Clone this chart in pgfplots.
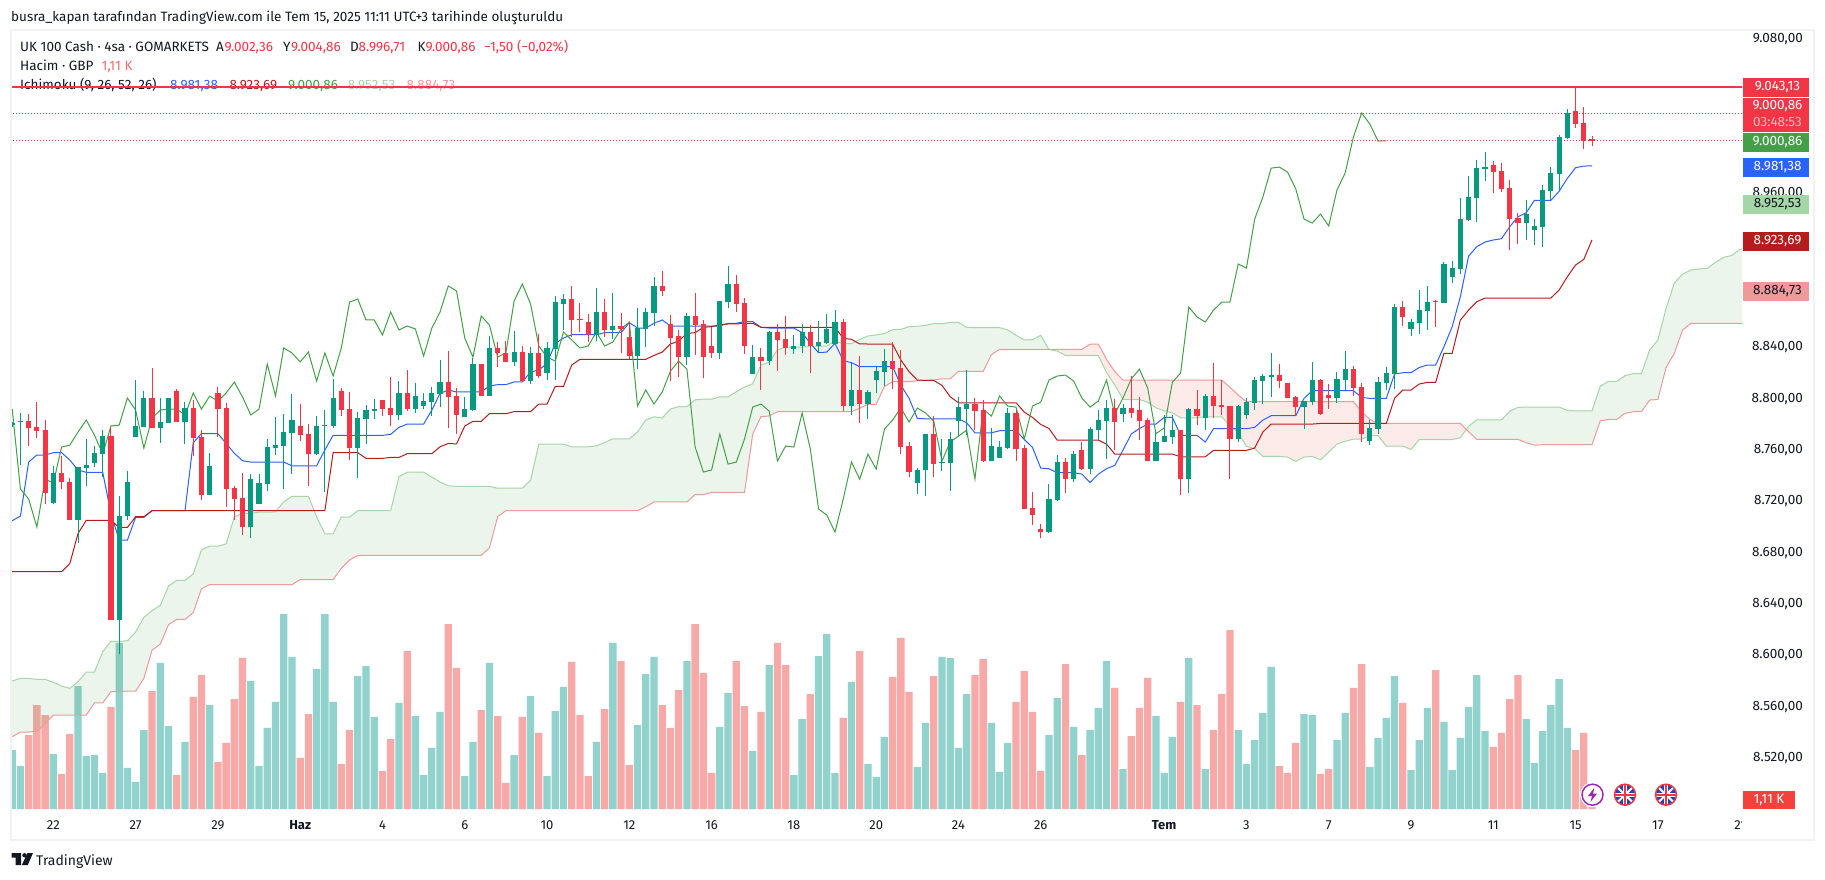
\documentclass[border=0pt]{standalone}
\usepackage{fontspec}
\setmainfont{Fira Sans}
\usepackage{pgfplots}
\usepackage{pgfplotstable}
\pgfplotsset{compat=1.18}
\definecolor{cUp}{HTML}{089981}
\definecolor{cDn}{HTML}{F23645}
\definecolor{vUp}{HTML}{92D2CC}
\definecolor{vDn}{HTML}{F7A9A7}
\definecolor{cT}{HTML}{2962FF}
\definecolor{cK}{HTML}{B71C1C}
\definecolor{cL}{HTML}{43A047}
\definecolor{cA}{HTML}{A5D6A7}
\definecolor{cB}{HTML}{EF9A9A}
\definecolor{cR}{HTML}{F44336}
\definecolor{txt}{HTML}{131722}
\definecolor{frameC}{HTML}{F1F2F4}
\definecolor{purp}{HTML}{9C27B0}
\definecolor{flagb}{HTML}{1A47B8}
\pgfplotstableread{
i o h l c v
0 8779.2 8782.0 8778.1 8781.0 28.3
1 8781.8 8788.5 8748.3 8782.5 20.6
2 8782.5 8787.7 8763.3 8777.1 35.5
3 8777.9 8797.4 8769.6 8774.8 49.9
4 8775.5 8783.3 8717.9 8726.7 45.1
5 8718.7 8747.5 8717.9 8742.0 26.4
6 8742.0 8755.3 8729.6 8735.0 16.8
7 8735.0 8738.1 8705.4 8705.4 36.0
8 8705.4 8746.7 8687.2 8746.7 59.0
9 8745.9 8768.5 8731.9 8748.3 25.4
10 8749.8 8763.1 8746.7 8757.6 25.9
11 8756.8 8775.5 8739.2 8770.9 17.3
12 8770.9 8777.9 8627.5 8627.5 49.0
13 8627.5 8724.1 8601.0 8708.5 79.7
14 8708.5 8743.6 8705.4 8735.0 19.7
15 8770.1 8814.5 8770.1 8778.7 13.0
16 8777.9 8805.9 8777.9 8800.5 37.9
17 8800.5 8823.8 8777.1 8777.1 56.6
18 8777.1 8800.5 8765.4 8781.8 70.1
19 8781.0 8800.5 8781.0 8800.5 39.8
20 8805.9 8807.5 8781.8 8781.8 16.3
21 8781.8 8797.4 8764.6 8792.7 32.2
22 8792.7 8798.9 8755.3 8769.3 53.8
23 8770.1 8775.5 8721.0 8724.9 64.3
24 8724.9 8757.6 8724.9 8747.5 49.9
25 8804.4 8809.0 8770.1 8791.9 22.6
26 8792.7 8796.6 8715.5 8729.6 31.7
27 8730.3 8731.9 8705.4 8721.8 52.8
28 8722.6 8742.0 8693.7 8700.0 72.5
29 8700.0 8741.3 8691.4 8737.4 61.4
30 8717.9 8741.3 8717.9 8734.2 20.6
31 8733.5 8768.5 8728.0 8762.3 38.9
32 8761.5 8785.7 8756.1 8763.8 51.4
33 8763.1 8788.0 8729.6 8774.0 93.6
34 8773.2 8803.6 8741.3 8783.3 73.0
35 8778.7 8795.8 8767.0 8771.6 24.5
36 8772.4 8780.2 8731.9 8756.8 45.6
37 8756.8 8786.4 8756.1 8778.7 67.2
38 8778.7 8791.1 8727.2 8779.4 93.6
39 8778.7 8815.3 8777.1 8800.5 51.4
40 8805.9 8808.3 8786.4 8791.1 21.6
41 8791.9 8805.1 8752.2 8761.5 37.9
42 8761.5 8789.6 8738.1 8784.9 63.8
43 8784.1 8795.0 8764.6 8791.1 68.6
44 8790.3 8799.7 8784.1 8791.9 44.2
45 8798.9 8798.9 8786.4 8791.9 18.2
46 8792.7 8816.8 8778.7 8787.2 33.6
47 8787.2 8813.7 8783.3 8804.4 50.9
48 8804.4 8822.3 8790.3 8791.9 75.8
49 8791.9 8812.2 8788.8 8802.0 44.6
50 8794.2 8804.4 8791.9 8798.1 16.3
51 8797.4 8809.0 8786.4 8804.4 29.3
52 8803.6 8830.1 8793.5 8812.9 46.6
53 8812.9 8837.1 8777.1 8801.2 88.8
54 8802.1 8808.3 8772.5 8787.3 67.7
55 8785.7 8801.3 8785.7 8791.9 15.8
56 8791.2 8831.7 8790.4 8827.0 32.2
57 8827.0 8827.0 8802.1 8802.1 47.5
58 8802.1 8848.8 8802.1 8839.5 70.1
59 8839.5 8844.1 8824.7 8835.6 44.6
60 8835.6 8844.9 8828.6 8828.6 12.5
61 8828.6 8852.7 8825.4 8836.3 25.9
62 8836.3 8841.0 8813.0 8813.7 44.2
63 8813.7 8840.2 8811.4 8835.6 54.2
64 8835.6 8850.4 8816.1 8817.6 36.5
65 8820.0 8844.1 8814.5 8839.5 15.8
66 8838.7 8880.0 8814.5 8875.3 47.0
67 8873.7 8881.5 8853.5 8877.6 58.6
68 8877.6 8887.8 8848.0 8861.3 70.6
69 8862.1 8874.5 8851.9 8861.3 45.1
70 8859.7 8865.9 8844.1 8849.6 15.8
71 8849.6 8886.2 8844.9 8867.5 32.2
72 8867.5 8877.6 8848.0 8853.5 48.0
73 8853.5 8882.3 8846.5 8856.6 79.7
74 8856.6 8866.7 8835.6 8854.3 71.0
75 8848.0 8859.7 8830.9 8833.2 21.1
76 8833.2 8870.6 8823.1 8855.0 40.3
77 8854.3 8870.6 8840.2 8867.5 64.8
78 8866.7 8894.8 8856.6 8887.8 73.0
79 8887.8 8899.4 8880.0 8883.9 49.9
80 8858.2 8865.2 8813.7 8847.2 38.9
81 8848.8 8853.5 8816.9 8832.4 57.1
82 8832.4 8866.7 8826.2 8864.4 71.0
83 8864.4 8882.3 8834.0 8857.4 88.8
84 8858.2 8861.3 8816.1 8832.4 65.3
85 8841.0 8855.8 8831.7 8835.6 17.3
86 8835.6 8876.1 8830.9 8876.1 39.4
87 8875.3 8903.3 8870.6 8889.3 55.7
88 8889.3 8896.3 8867.5 8873.7 71.0
89 8874.5 8878.4 8834.8 8841.0 49.4
90 8819.2 8841.8 8819.2 8832.4 27.8
91 8832.4 8839.5 8806.7 8829.3 46.6
92 8829.3 8852.7 8826.2 8851.9 69.1
93 8851.9 8858.2 8821.5 8845.7 79.7
94 8846.5 8864.4 8834.0 8839.5 69.1
95 8838.7 8849.6 8834.8 8841.0 16.3
96 8841.0 8858.2 8835.6 8851.9 43.2
97 8851.9 8857.4 8820.0 8841.0 55.2
98 8841.0 8860.5 8835.6 8844.1 73.4
99 8843.4 8865.9 8842.6 8854.3 84.0
100 8842.6 8869.1 8841.8 8859.7 17.3
101 8859.7 8862.1 8790.4 8794.3 43.7
102 8794.3 8827.8 8787.3 8806.7 61.0
103 8806.7 8833.2 8781.0 8795.8 75.8
104 8795.8 8806.7 8784.1 8805.2 21.6
105 8814.5 8824.7 8804.4 8821.5 15.4
106 8820.8 8838.7 8809.9 8829.3 34.6
107 8829.3 8844.1 8807.5 8823.0 63.4
108 8823.8 8837.8 8756.8 8762.3 82.1
109 8763.1 8766.2 8738.9 8742.8 56.2
110 8734.2 8745.9 8725.7 8744.4 20.2
111 8744.4 8772.4 8724.1 8772.4 41.3
112 8772.4 8786.4 8738.9 8749.0 63.8
113 8749.8 8768.5 8743.6 8750.6 73.0
114 8749.8 8774.0 8728.0 8768.5 72.5
115 8782.5 8801.2 8770.8 8793.4 29.3
116 8791.9 8822.3 8771.6 8795.8 55.2
117 8795.8 8800.4 8775.5 8790.3 64.3
118 8791.1 8798.9 8750.6 8751.4 72.0
119 8751.4 8777.1 8751.4 8763.1 41.3
120 8753.7 8766.9 8753.7 8762.3 17.8
121 8761.5 8792.7 8760.7 8788.8 31.7
122 8788.8 8791.1 8751.4 8760.7 51.4
123 8761.5 8763.8 8714.0 8714.0 66.2
124 8714.7 8727.2 8701.5 8709.3 46.6
125 8698.4 8702.3 8691.4 8696.0 18.2
126 8696.0 8733.4 8695.3 8721.8 35.5
127 8721.0 8756.0 8720.2 8750.6 53.3
128 8750.6 8753.7 8726.4 8737.3 69.6
129 8737.3 8759.2 8735.0 8756.8 39.4
130 8759.9 8766.2 8744.4 8745.1 25.9
131 8745.1 8777.9 8741.2 8776.3 37.9
132 8775.5 8791.1 8767.7 8783.3 48.5
133 8782.5 8798.9 8752.9 8792.7 71.0
134 8792.7 8799.7 8759.9 8781.8 58.1
135 8788.0 8795.8 8781.8 8792.7 19.2
136 8792.7 8817.6 8784.9 8788.8 35.0
137 8791.1 8801.2 8767.7 8782.5 48.5
138 8783.3 8784.9 8751.4 8751.4 62.9
139 8751.4 8775.5 8751.4 8766.2 44.6
140 8766.2 8787.2 8766.2 8770.8 17.3
141 8770.1 8787.2 8764.6 8775.5 34.6
142 8775.5 8775.5 8724.9 8737.3 51.4
143 8737.3 8792.7 8726.4 8791.9 72.5
144 8791.9 8806.7 8779.4 8786.4 49.9
145 8784.9 8803.6 8775.5 8802.0 19.2
146 8802.0 8827.7 8784.9 8794.2 37.9
147 8795.0 8814.5 8787.2 8793.4 55.2
148 8794.2 8794.2 8737.3 8768.5 85.9
149 8768.5 8795.0 8766.2 8794.2 37.9
150 8787.2 8800.4 8784.1 8797.3 21.6
151 8796.6 8816.8 8791.1 8814.5 33.1
152 8813.7 8819.1 8795.8 8817.6 46.1
153 8816.8 8835.5 8801.2 8818.4 68.2
154 8818.4 8826.9 8808.2 8813.7 20.6
155 8812.1 8812.1 8800.4 8800.4 17.3
156 8801.2 8802.0 8787.2 8793.4 31.7
157 8793.4 8798.1 8776.3 8798.1 45.6
158 8797.3 8828.5 8795.0 8814.5 45.1
159 8814.5 8815.3 8787.2 8788.0 16.8
160 8802.8 8811.4 8791.9 8800.5 19.2
161 8800.5 8820.7 8796.6 8815.3 33.1
162 8814.5 8837.1 8806.7 8823.0 46.1
163 8823.0 8825.4 8802.0 8808.2 58.1
164 8809.0 8812.1 8766.4 8772.7 69.6
165 8767.2 8783.3 8764.1 8777.1 20.2
166 8776.6 8816.8 8772.4 8812.9 34.1
167 8812.1 8824.6 8806.7 8819.9 43.7
168 8819.2 8873.7 8807.5 8871.4 63.8
169 8871.4 8876.0 8856.6 8863.6 50.9
170 8854.2 8862.0 8848.8 8859.7 18.7
171 8858.9 8884.6 8850.3 8869.0 33.1
172 8868.2 8887.7 8853.4 8875.2 48.5
173 8876.0 8876.8 8855.8 8875.2 66.7
174 8874.5 8906.4 8874.5 8904.9 41.8
175 8894.7 8907.2 8890.0 8901.7 18.7
176 8901.0 8956.3 8897.1 8939.9 34.1
177 8939.1 8973.4 8938.4 8957.1 49.0
178 8956.3 8985.9 8937.6 8979.6 64.3
179 8978.9 8992.1 8969.5 8980.4 37.4
180 8982.0 8985.1 8960.2 8976.5 29.8
181 8977.3 8983.5 8961.0 8963.3 36.5
182 8964.1 8970.3 8915.8 8939.9 52.8
183 8940.7 8944.6 8920.4 8936.8 64.3
184 8936.8 8954.7 8923.6 8943.8 43.2
185 8931.3 8939.9 8919.7 8934.5 22.1
186 8933.7 8966.4 8918.1 8962.5 37.4
187 8961.7 8980.4 8954.7 8975.8 49.9
188 8975.0 9005.4 8962.5 9003.8 62.4
189 9003.0 9025.6 9002.2 9022.5 38.9
190 9024.1 9043.13 9010.8 9013.9 28.3
191 9014.7 9027.2 8994.5 9000.7 36.5
192 9002.36 9004.86 8996.71 9000.86 1.11
}\candles
\begin{document}
\begin{tikzpicture}
\fill[white] (0,0) rectangle (1825pt,-879pt);
\path[use as bounding box] (0,0) rectangle (1825pt,-879pt);
\begin{scope}[x=1pt,y=-1pt,every node/.style={inner sep=0pt,text=txt,anchor=base west}]
\def\fs{\fontsize{13.5}{15}\selectfont}
\node[font=\fs] at (11,21) {busra\_kapan tarafından TradingView.com ile Tem 15, 2025 11:11 UTC+3 tarihinde oluşturuldu};
\node[font=\fs] at (20,51.5) {UK 100 Cash · 4sa · GOMARKETS};
\node[font=\fs] at (216,51.5) {A};\node[font=\fs,text=cDn] at (224.5,51.5) {9.002,36};
\node[font=\fs] at (283,51.5) {Y};\node[font=\fs,text=cDn] at (291,51.5) {9.004,86};
\node[font=\fs] at (350,51.5) {D};\node[font=\fs,text=cDn] at (358.5,51.5) {8.996,71};
\node[font=\fs] at (417.5,51.5) {K};\node[font=\fs,text=cDn] at (425.5,51.5) {9.000,86};
\node[font=\fs,text=cDn] at (484,51.5) {−1,50 (−0,02\%)};
\node[font=\fs] at (20,70.5) {Hacim · GBP};
\node[font=\fs,text=cB!70!red] at (101.5,70.5) {1,11 K};
\node[font=\fs] at (20,89.3) {Ichimoku (9, 26, 52, 26)};
\node[font=\fs,text=cT] at (170,89.3) {8.981,38};
\node[font=\fs,text=cK] at (229.3,89.3) {8.923,69};
\node[font=\fs,text=cL] at (288,89.3) {9.000,86};
\node[font=\fs,text=cA] at (347.6,89.3) {8.952,53};
\node[font=\fs,text=cB] at (406.5,89.3) {8.884,73};
\end{scope}

% volume pane
\begin{axis}[at={(11pt,-809pt)},anchor=south west,scale only axis,width=1731pt,height=779pt,
  xmin=-0.146,xmax=210.23,ymin=0,ymax=373.9,hide axis]
\addplot[ybar,bar width=7.3pt,bar shift=0pt,fill=vUp,draw=none]
  table[x expr={\thisrow{c}>=\thisrow{o}?\thisrow{i}:nan},y=v]{\candles};
\addplot[ybar,bar width=7.3pt,bar shift=0pt,fill=vDn,draw=none]
  table[x expr={\thisrow{c}<\thisrow{o}?\thisrow{i}:nan},y=v]{\candles};
\end{axis}

% price pane
\begin{axis}[at={(11pt,-809pt)},anchor=south west,scale only axis,width=1731pt,height=779pt,
  xmin=-0.146,xmax=210.23,ymin=8480.3,ymax=9087.2,
  axis line style={draw=none},major tick length=0pt,tick style={draw=none},
  xtick={5,15,25,35,45,55,65,75,85,95,105,115,125,140,150,160,170,180,190,200,210},
  xticklabels={22,27,29,\textbf{Haz},4,6,10,12,16,18,20,24,26,\textbf{Tem},3,7,9,11,15,17,21},
  xticklabel style={font=\fontsize{13}{15}\selectfont,text=txt,anchor=base,inner sep=0pt,yshift=-20pt},
  yticklabel pos=right,
  ytick={8520,8560,8600,8640,8680,8720,8760,8800,8840,8960,9080},
  yticklabels={{8.520,00},{8.560,00},{8.600,00},{8.640,00},{8.680,00},{8.720,00},{8.760,00},{8.800,00},{8.840,00},{8.960,00},{9.080,00}},
  yticklabel style={font=\fontsize{13.5}{15}\selectfont,text=txt,anchor=east,inner sep=0pt,xshift=61pt}]

% cloud: green part up to the first crossing (span A forward, span B back)
\addplot[fill=cL,fill opacity=0.1,draw=none,forget plot] coordinates {
(0,8580)(1,8582.1)(2,8582.1)(3,8581.3)(4,8581.3)(5,8579)(6,8576.1)(7,8574.3)(8,8579.5)(9,8587)(10,8587)(11,8602.8)(12,8610.9)(13,8610.9)(14,8611.4)(15,8618.2)(16,8629.6)(17,8634.8)(18,8639)(19,8654)(20,8658.4)(21,8658.4)(22,8663.4)(23,8682.1)(24,8685.2)
(25,8685.05)(26,8686.85)(27,8707.9)(28,8710.65)(29,8710.65)(30,8711.55)(31,8711.55)(32,8711.8)(33,8719.7)(34,8723.9)(36,8723.9)(37,8707.9)(38,8694.75)(39,8694.75)(40,8707.75)(41,8707.75)(42,8712.7)(46,8712.7)(47,8739.2)(48,8742.7)(50,8742.7)(51,8738.9)(52,8735.05)(53,8732.15)(54,8731.65)(58,8731.65)(59,8730.2)(62,8730.2)(63,8736.35)(64,8764.65)(67,8764.65)(68,8762.45)(70,8762.45)(71,8763.2)(72,8765.9)(73,8768.65)(75,8768.65)(76,8774.1)(77,8783.3)(78,8785.9)(79,8784.95)(80,8791.95)(81,8793.75)(82,8793.75)(83,8799.1)(84,8799.6)(85,8799.6)(86,8801.45)(87,8801.45)(88,8805.35)(89,8809.05)(90,8811.65)(91,8826.35)(92,8828.4)(93,8838)(94,8840.2)(96,8840.2)(97,8841)(99,8841)(100,8844.9)(101,8842.8)(102,8842.8)(103,8846.2)(104,8848.8)(105,8849.6)(106,8850.75)(107,8853.75)(108,8854)(109,8856.1)(110,8856.35)(111,8857.1)(112,8858.45)(113,8858.45)(114,8859.35)(115,8859.35)(116,8855.6)(117,8855.3)(120,8855.3)(121,8853.5)(122,8849.35)(123,8845.7)(124,8845.95)(125,8849.35)(126,8838.35)
(120,8838.4)(119,8834.2)(118,8821.2)(115,8821.2)(114,8815.5)(113,8815.5)(112,8814.5)(111,8814.2)(110,8814)(109,8813.2)(107,8813.2)(106,8809.5)(105,8795.6)(104,8795.6)(103,8792.5)(102,8789.9)(93,8789.9)(92,8786.5)(91,8786)(90,8772.5)(89,8727)(85,8727)(84,8725.2)(83,8725.2)(82,8719.5)(78,8719.5)(77,8715.8)(76,8712.7)(60,8712.7)(59,8708)(58,8683.9)(57,8677.9)(42,8677.9)(41,8674.3)(40,8667.8)(39,8659)(35,8659)(34,8655.1)(24,8655.1)(23,8651.9)(22,8633.3)(21,8628)(20,8628)(19,8624)(18,8608.8)(17,8604.1)(16,8582.1)(15,8572.2)(14,8572.2)(13,8571.7)(12,8571.7)(11,8562.9)(10,8562.9)(9,8553.5)(5,8553.5)(4,8547)(3,8540.8)(2,8540.3)(1,8540.3)(0,8536.6)};
% cloud: red part between the crossings (span B forward, span A back)
\addplot[fill=cR,fill opacity=0.1,draw=none,forget plot] coordinates {
(126,8838.35)(130,8838.4)(131,8842.5)(132,8842.5)(133,8830.6)(134,8821)(135,8814.5)(147,8814.5)(148,8808.8)(149,8802.8)(150,8797.6)(163,8797.6)(164,8789.8)(165,8783.8)(166,8780.7)(176,8780.7)(176.7,8776.1)
(176,8769.55)(175,8768.15)(171,8768.15)(170,8760.45)(169,8763.05)(167,8763.05)(166,8771.1)(165,8771.1)(164,8768.5)(163,8768.5)(162,8766.8)(161,8764.6)(160,8758.35)(159,8752.4)(158,8755)(157,8754.45)(156,8751.2)(155,8754.45)(154,8755)(152,8755)(151,8761.1)(150,8762.9)(149,8773.7)(148,8778.85)(147,8785.9)(145,8785.9)(144,8785.1)(142,8785.1)(141,8789)(140,8790.55)(139,8792.9)(138,8797.3)(137,8799.25)(136,8799.25)(135,8799.55)(134,8810.6)(133,8820.35)(132,8833.7)(131,8833.7)(130,8833.75)(128,8833.75)(127,8837.1)};
% cloud: green part after the second crossing (span A forward, span B back)
\addplot[fill=cL,fill opacity=0.1,draw=none,forget plot] coordinates {
(176.7,8776.1)(177,8778.65)(178,8783.45)(181,8783.45)(182,8790.2)(183,8793.2)(184,8793.45)(188,8793.45)(189,8790.85)(190,8790.45)(192,8790.45)(193,8809.7)(194,8813.45)(195,8813.45)(196,8817.85)(197,8819.45)(198,8819.45)(199,8837.85)(200,8845.65)(201,8870.3)(202,8890.05)(203,8896.95)(204,8900.2)(205,8901)(206,8901.5)(207,8906.15)(208,8910.05)(209,8911.6)(210,8916.45)(211,8916.45)
(211,8858.6)(204,8858.6)(203,8853.4)(202,8835.3)(201,8824.3)(200,8799.4)(199,8798.9)(198,8789.8)(197,8789.8)(196,8788.5)(195,8783.8)(194,8783.8)(193,8782.8)(192,8764.1)(186,8764.1)(185,8763.8)(184,8765.7)(183,8768.3)(178,8768.3)(177,8774.2)};

% leading span A
\addplot[cA,line width=1pt] coordinates {
(0,8580)(1,8582.1)(2,8582.1)(3,8581.3)(4,8581.3)(5,8579)(6,8576.1)(7,8574.3)(8,8579.5)(9,8587)(10,8587)(11,8602.8)(12,8610.9)(13,8610.9)(14,8611.4)(15,8618.2)(16,8629.6)(17,8634.8)(18,8639)(19,8654)(20,8658.4)(21,8658.4)(22,8663.4)(23,8682.1)(24,8685.2)
(25,8685.05)(26,8686.85)(27,8707.9)(28,8710.65)(29,8710.65)(30,8711.55)(31,8711.55)(32,8711.8)(33,8719.7)(34,8723.9)(36,8723.9)(37,8707.9)(38,8694.75)(39,8694.75)(40,8707.75)(41,8707.75)(42,8712.7)(46,8712.7)(47,8739.2)(48,8742.7)(50,8742.7)(51,8738.9)(52,8735.05)(53,8732.15)(54,8731.65)(58,8731.65)(59,8730.2)(62,8730.2)(63,8736.35)(64,8764.65)(67,8764.65)(68,8762.45)(70,8762.45)(71,8763.2)(72,8765.9)(73,8768.65)(75,8768.65)(76,8774.1)(77,8783.3)(78,8785.9)(79,8784.95)(80,8791.95)(81,8793.75)(82,8793.75)(83,8799.1)(84,8799.6)(85,8799.6)(86,8801.45)(87,8801.45)(88,8805.35)(89,8809.05)(90,8811.65)(91,8826.35)(92,8828.4)(93,8838)(94,8840.2)(96,8840.2)(97,8841)(99,8841)(100,8844.9)(101,8842.8)(102,8842.8)(103,8846.2)(104,8848.8)(105,8849.6)(106,8850.75)(107,8853.75)(108,8854)(109,8856.1)(110,8856.35)(111,8857.1)(112,8858.45)(113,8858.45)(114,8859.35)(115,8859.35)(116,8855.6)(117,8855.3)(120,8855.3)(121,8853.5)(122,8849.35)(123,8845.7)(124,8845.95)(125,8849.35)(126,8838.3)(127,8837.1)(128,8833.75)(130,8833.75)(131,8833.7)(132,8833.7)(133,8820.35)(134,8810.6)(135,8799.55)(136,8799.25)(137,8799.25)(138,8797.3)(139,8792.9)(140,8790.55)(141,8789)(142,8785.1)(144,8785.1)(145,8785.9)(147,8785.9)(148,8778.85)(149,8773.7)(150,8762.9)(151,8761.1)(152,8755)(154,8755)(155,8754.45)(156,8751.2)(157,8754.45)(158,8755)(159,8752.4)(160,8758.35)(161,8764.6)(162,8766.8)(163,8768.5)(164,8768.5)(165,8771.1)(166,8771.1)(167,8763.05)(169,8763.05)(170,8760.45)(171,8768.15)(175,8768.15)(176,8769.55)(177,8778.65)(178,8783.45)(181,8783.45)(182,8790.2)(183,8793.2)(184,8793.45)(188,8793.45)(189,8790.85)(190,8790.45)(192,8790.45)(193,8809.7)(194,8813.45)(195,8813.45)(196,8817.85)(197,8819.45)(198,8819.45)(199,8837.85)(200,8845.65)(201,8870.3)(202,8890.05)(203,8896.95)(204,8900.2)(205,8901)(206,8901.5)(207,8906.15)(208,8910.05)(209,8911.6)(210,8916.45)(211,8916.45)};
% leading span B
\addplot[cB,line width=1pt] coordinates {
(0,8536.6)(1,8540.3)(2,8540.3)(3,8540.8)(4,8547)(5,8553.5)(9,8553.5)(10,8562.9)(11,8562.9)(12,8571.7)(13,8571.7)(14,8572.2)(15,8572.2)(16,8582.1)(17,8604.1)(18,8608.8)(19,8624)(20,8628)(21,8628)(22,8633.3)(23,8651.9)(24,8655.1)(34,8655.1)(35,8659)(39,8659)(40,8667.8)(41,8674.3)(42,8677.9)(57,8677.9)(58,8683.9)(59,8708)(60,8712.7)(76,8712.7)(77,8715.8)(78,8719.5)(82,8719.5)(83,8725.2)(84,8725.2)(85,8727)(89,8727)(90,8772.5)(91,8786)(92,8786.5)(93,8789.9)(102,8789.9)(103,8792.5)(104,8795.6)(105,8795.6)(106,8809.5)(107,8813.2)(109,8813.2)(110,8814)(111,8814.2)(112,8814.5)(113,8815.5)(114,8815.5)(115,8821.2)(118,8821.2)(119,8834.2)(120,8838.4)(130,8838.4)(131,8842.5)(132,8842.5)(133,8830.6)(134,8821)(135,8814.5)(147,8814.5)(148,8808.8)(149,8802.8)(150,8797.6)(163,8797.6)(164,8789.8)(165,8783.8)(166,8780.7)(176,8780.7)(177,8774.2)(178,8768.3)(183,8768.3)(184,8765.7)(185,8763.8)(186,8764.1)(192,8764.1)(193,8782.8)(194,8783.8)(195,8783.8)(196,8788.5)(197,8789.8)(198,8789.8)(199,8798.9)(200,8799.4)(201,8824.3)(202,8835.3)(203,8853.4)(204,8858.6)(211,8858.6)};

% conversion line
\addplot[cT,line width=1pt] coordinates {
(0,8704.9)(1,8708.5)(2,8750.6)(3,8756.1)(4,8756.1)(5,8757.9)(6,8757.9)(7,8752.2)(8,8744.4)(9,8742.6)(11,8742.6)(12,8710.6)(13,8689.8)(14,8689.8)(15,8707.5)(16,8707.5)(17,8712.7)(21,8712.7)(22,8765.7)(23,8772.7)(25,8772.7)(26,8765.1)(27,8757.4)(28,8751.6)(29,8750.6)(33,8750.6)(34,8747.7)(37,8747.7)(38,8760)(39,8771.4)(45,8771.4)(46,8772.2)(47,8777.6)(48,8780.2)(50,8780.2)(51,8791.1)(52,8804.1)(53,8806.7)(54,8805.2)(57,8805.2)(58,8809.9)(59,8810.9)(60,8810.9)(61,8813)(62,8813)(63,8820.8)(64,8822.3)(65,8827.5)(66,8843.1)(67,8847.2)(68,8849.8)(71,8849.8)(72,8851.4)(74,8851.4)(75,8859.2)(76,8855)(77,8855)(78,8858.7)(79,8861.3)(80,8856.6)(86,8856.6)(87,8858.7)(88,8858.7)(89,8860)(90,8860)(91,8855.6)(92,8855)(95,8855)(96,8851.4)(97,8843.1)(98,8835.8)(99,8836.3)(100,8843.1)(101,8829.6)(102,8828)(103,8824.9)(107,8824.9)(108,8810.6)(109,8800.2)(110,8784.6)(111,8784.3)(115,8784.3)(116,8781.2)(117,8773.4)(119,8773.4)(120,8775)(122,8775)(123,8768.2)(124,8762)(125,8745.9)(126,8745.4)(127,8742.3)(129,8742.3)(130,8741.2)(131,8734.7)(132,8741.2)(133,8745.4)(134,8748)(135,8759.9)(136,8772.4)(137,8776.8)(138,8780.2)(139,8780.2)(140,8785.4)(141,8785.4)(142,8771.4)(144,8771.4)(145,8766.2)(146,8776.6)(150,8776.6)(151,8777.6)(152,8783.3)(153,8786.7)(156,8786.7)(157,8800.2)(158,8806.2)(163,8806.2)(164,8801)(165,8800.2)(167,8800.2)(168,8819.2)(169,8820.2)(170,8820.2)(171,8824.3)(172,8826.2)(173,8826.2)(174,8840.4)(175,8856)(176,8879.4)(177,8911.1)(178,8918.4)(179,8922)(180,8923.6)(181,8924.6)(182,8933.9)(183,8941.7)(184,8944.8)(185,8954.5)(187,8954.5)(188,8961.5)(189,8971.6)(190,8979.9)(191,8981.2)(192,8981.38)};
% base line
\addplot[cK,line width=1pt] coordinates {
(0,8665.2)(6,8665.2)(7,8671.4)(8,8695)(9,8705.2)(12,8705.2)(13,8699.7)(14,8699.7)(15,8708)(16,8708)(17,8712.7)(38,8712.7)(39,8757.9)(42,8757.9)(43,8753.5)(45,8753.5)(46,8754.2)(47,8754.2)(48,8757.1)(51,8757.1)(52,8762.5)(53,8765.1)(54,8764.7)(55,8778.7)(56,8782.3)(57,8782.3)(58,8788.3)(60,8788.3)(61,8789.9)(63,8789.9)(64,8795.8)(65,8795.8)(66,8809.6)(67,8809.6)(68,8826.2)(69,8830.6)(77,8830.6)(78,8833.7)(79,8836.3)(80,8842.6)(81,8844.9)(82,8850.9)(83,8851.4)(84,8855.6)(85,8856.1)(86,8857.6)(87,8858.2)(88,8858.2)(89,8858.7)(90,8858.7)(91,8855.6)(100,8855.6)(101,8847)(102,8846.2)(103,8842.6)(107,8842.5)(108,8830.1)(109,8821)(110,8814.5)(111,8814.2)(112,8814.2)(113,8810.3)(114,8801.5)(115,8796.8)(122,8796.8)(123,8789.5)(124,8785.4)(125,8779.9)(126,8776.8)(127,8767.7)(132,8767.7)(133,8764.6)(134,8756.8)(141,8756.8)(142,8754.7)(145,8754.7)(146,8759.7)(150,8759.7)(151,8761.5)(152,8774)(153,8780.2)(158,8780.2)(159,8780.7)(167,8780.7)(168,8800.2)(169,8806.7)(170,8806.7)(171,8811.4)(172,8812.7)(173,8812.7)(174,8835.3)(175,8835.3)(176,8861.2)(177,8869)(178,8875.5)(179,8878.4)(187,8878.4)(188,8884.6)(189,8895)(190,8904.1)(191,8908.5)(192,8923.69)};
% lagging span
\addplot[cL,line width=1pt] coordinates {
(0,8791.9)(1,8729.6)(2,8721.8)(3,8700)(4,8737.4)(5,8734.2)(6,8762.3)(7,8763.8)(8,8774)(9,8783.3)(10,8771.6)(11,8756.8)(12,8778.7)(13,8779.4)(14,8800.5)(15,8791.1)(16,8761.5)(17,8784.9)(18,8791.1)(19,8791.9)(20,8791.9)(21,8787.2)(22,8804.4)(23,8791.9)(24,8802)(25,8798.1)(26,8804.4)(27,8812.9)(28,8801.2)(29,8787.3)(30,8791.9)(31,8827)(32,8802.1)(33,8839.5)(34,8835.6)(35,8828.6)(36,8836.3)(37,8813.7)(38,8835.6)(39,8817.6)(40,8839.5)(41,8875.3)(42,8877.6)(43,8861.3)(44,8861.3)(45,8849.6)(46,8867.5)(47,8853.5)(48,8856.6)(49,8854.3)(50,8833.2)(51,8855)(52,8867.5)(53,8887.8)(54,8883.9)(55,8847.2)(56,8832.4)(57,8864.4)(58,8857.4)(59,8832.4)(60,8835.6)(61,8876.1)(62,8889.3)(63,8873.7)(64,8841)(65,8832.4)(66,8829.3)(67,8851.9)(68,8845.7)(69,8839.5)(70,8841)(71,8851.9)(72,8841)(73,8844.1)(74,8854.3)(75,8859.7)(76,8794.3)(77,8806.7)(78,8795.8)(79,8805.2)(80,8821.5)(81,8829.3)(82,8823)(83,8762.3)(84,8742.8)(85,8744.4)(86,8772.4)(87,8749)(88,8750.6)(89,8768.5)(90,8793.4)(91,8795.8)(92,8790.3)(93,8751.4)(94,8763.1)(95,8762.3)(96,8788.8)(97,8760.7)(98,8714)(99,8709.3)(100,8696)(101,8721.8)(102,8750.6)(103,8737.3)(104,8756.8)(105,8745.1)(106,8776.3)(107,8783.3)(108,8792.7)(109,8781.8)(110,8792.7)(111,8788.8)(112,8782.5)(113,8751.4)(114,8766.2)(115,8770.8)(116,8775.5)(117,8737.3)(118,8791.9)(119,8786.4)(120,8802)(121,8794.2)(122,8793.4)(123,8768.5)(124,8794.2)(125,8797.3)(126,8814.5)(127,8817.6)(128,8818.4)(129,8813.7)(130,8800.4)(131,8793.4)(132,8798.1)(133,8814.5)(134,8788)(135,8800.5)(136,8815.3)(137,8823)(138,8808.2)(139,8772.7)(140,8777.1)(141,8812.9)(142,8819.9)(143,8871.4)(144,8863.6)(145,8859.7)(146,8869)(147,8875.2)(148,8875.2)(149,8904.9)(150,8901.7)(151,8939.9)(152,8957.1)(153,8979.6)(154,8980.4)(155,8976.5)(156,8963.3)(157,8939.9)(158,8936.8)(159,8943.8)(160,8934.5)(161,8962.5)(162,8975.8)(163,9003.8)(164,9022.5)(165,9013.9)(166,9000.7)(167,9000.86)};

% price lines
\addplot[cDn,line width=0.8pt,dash pattern=on 1pt off 2pt] coordinates {(-1,9022.3)(211,9022.3)};
\addplot[cDn,line width=0.8pt,dash pattern=on 1pt off 2pt] coordinates {(-1,9000.86)(211,9000.86)};
\addplot[cDn,line width=2pt] coordinates {(-1,9043.13)(211,9043.13)};

% candles: wicks
\addplot[draw=none,mark=none,error bars/.cd,y dir=both,y explicit,error mark=none,error bar style={cUp,line width=1pt}]
  table[x expr={\thisrow{c}>=\thisrow{o}?\thisrow{i}:nan},y=o,y error plus expr=\thisrow{h}-\thisrow{o},y error minus expr=\thisrow{o}-\thisrow{l}]{\candles};
\addplot[draw=none,mark=none,error bars/.cd,y dir=both,y explicit,error mark=none,error bar style={cDn,line width=1pt}]
  table[x expr={\thisrow{c}<\thisrow{o}?\thisrow{i}:nan},y=o,y error plus expr=\thisrow{h}-\thisrow{o},y error minus expr=\thisrow{o}-\thisrow{l}]{\candles};
% candles: bodies
\addplot[draw=none,mark=none,error bars/.cd,y dir=plus,y explicit,error mark=none,error bar style={cUp,line width=5.2pt}]
  table[x expr={\thisrow{c}>=\thisrow{o}?\thisrow{i}:nan},y=o,y error plus expr=\thisrow{c}-\thisrow{o}]{\candles};
\addplot[draw=none,mark=none,error bars/.cd,y dir=plus,y explicit,error mark=none,error bar style={cDn,line width=5.2pt}]
  table[x expr={\thisrow{c}<\thisrow{o}?\thisrow{i}:nan},y=c,y error plus expr=\thisrow{o}-\thisrow{c}]{\candles};
\end{axis}

\begin{scope}[x=1pt,y=-1pt]
\fill[white] (1741.8,815) rectangle (1812,835);
\draw[frameC,line width=2pt] (10.5,30) rectangle (1813.5,840);
\def\pill#1#2#3#4#5{\fill[#3] (1742.6,#1) rectangle (1809,#2);
  \node[inner sep=0pt,text=#4,font=\fontsize{13.5}{15}\selectfont] at (1777.5,{(#1+#2)/2}) {#5};}
\pill{78}{96.7}{cDn}{white}{9.043,13}
\fill[cDn] (1742.6,98) rectangle (1809,132);
\node[inner sep=0pt,text=white,font=\fontsize{13.5}{15}\selectfont] at (1777.5,106.5) {9.000,86};
\node[inner sep=0pt,text=white!65!cDn,font=\fontsize{13.5}{15}\selectfont] at (1777.5,121.5) {03:48:53};
\pill{133}{151.5}{cL}{white}{9.000,86}
\pill{158}{177}{cT}{white}{8.981,38}
\pill{195}{214}{cA}{txt}{8.952,53}
\pill{232}{251}{cK}{white}{8.923,69}
\pill{282}{301}{cB}{txt}{8.884,73}
\fill[cDn!85!orange] (1743,791) rectangle (1794.6,809);
\node[inner sep=0pt,text=white,font=\fontsize{13.5}{15}\selectfont] at (1769,800) {1,11 K};
% event icons
\fill[white] (1592.5,794.7) circle (12.5);
\draw[fill=white,draw=purp,line width=1.5pt] (1592.5,794.7) circle (10.5);
\fill[purp] (1594.5,787.5) -- (1588,796) -- (1592,796) -- (1590.5,802) -- (1597,793.5) -- (1593,793.5) -- cycle;
\foreach \cx in {1625,1666}{
  \fill[white] (\cx,794.7) circle (12.5);
  \begin{scope}
    \clip (\cx,794.7) circle (10.5);
    \fill[flagb] (\cx-11,783) rectangle (\cx+11,806);
    \draw[white,line width=2pt] (\cx-10,785) -- (\cx+10,804.5) (\cx+10,785) -- (\cx-10,804.5);
    \draw[white,line width=4pt] (\cx,783) -- (\cx,806) (\cx-11,794.7) -- (\cx+11,794.7);
    \draw[cDn,line width=2pt] (\cx,783) -- (\cx,806) (\cx-11,794.7) -- (\cx+11,794.7);
  \end{scope}
  \draw[cDn,line width=1.5pt] (\cx,794.7) circle (10.5);
}
% TradingView mark
\fill[txt] (11.7,853) -- (21,853) -- (21,865) -- (15.5,865) -- (15.5,857.5) -- (11.7,857.5) -- cycle;
\fill[txt] (24.5,855.3) circle (2.2);
\fill[txt] (27.5,853) -- (33,853) -- (27.8,865) -- (21.8,865) -- cycle;
\node[inner sep=0pt,anchor=base west,text=txt,font=\fontsize{14}{16}\selectfont] at (36,865) {TradingView};
\end{scope}
\end{tikzpicture}
\end{document}
